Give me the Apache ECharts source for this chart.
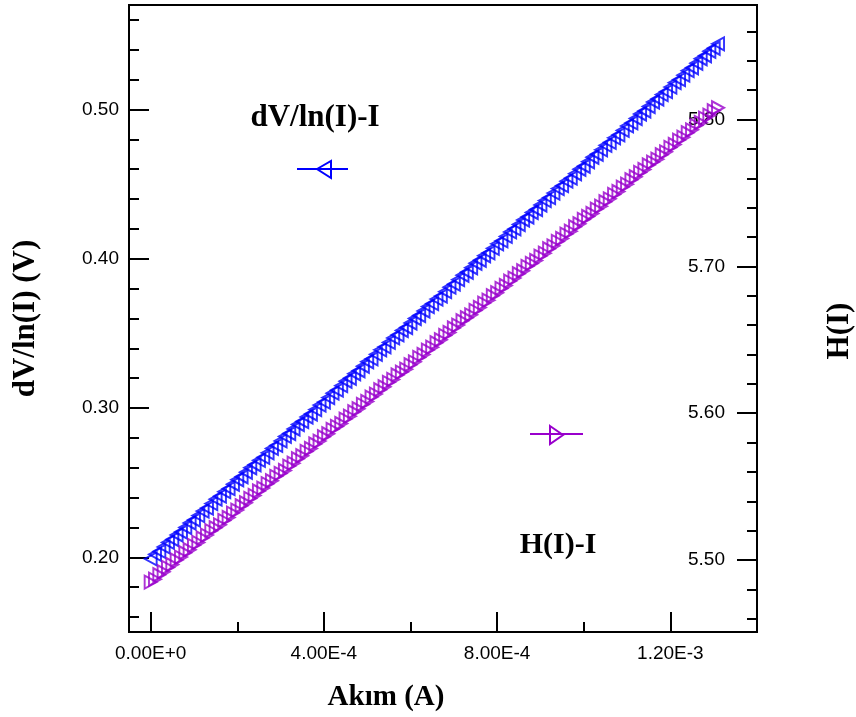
<!DOCTYPE html>
<html>
<head>
<meta charset="utf-8">
<script src="https://cdn.jsdelivr.net/npm/echarts@6/dist/echarts.min.js"></script>
<style>
html,body{margin:0;padding:0;background:#fff;}
#chart{width:856px;height:717px;}
</style>
</head>
<body>
<div id="chart"></div>
<script>
// Current values in microamperes
const currentUA = [0,10,20,30,40,50,60,70,80,90,100,110,120,130,140,150,160,170,180,190,
200,210,220,230,240,250,260,270,280,290,300,310,320,330,340,350,360,370,380,390,
400,410,420,430,440,450,460,470,480,490,500,510,520,530,540,550,560,570,580,590,
600,610,620,630,640,650,660,670,680,690,700,710,720,730,740,750,760,770,780,790,
800,810,820,830,840,850,860,870,880,890,900,910,920,930,940,950,960,970,980,990,
1000,1010,1020,1030,1040,1050,1060,1070,1080,1090,1100,1110,1120,1130,1140,1150,1160,1170,1180,1190,
1200,1210,1220,1230,1240,1250,1260,1270,1280,1290,1300,1310];

// dV/dln(I) (V), left axis
const dVdlnI = [0.199,0.202,0.204,0.207,0.210,0.212,0.215,0.217,0.220,0.223,
0.225,0.228,0.231,0.233,0.236,0.239,0.241,0.244,0.246,0.249,
0.252,0.254,0.257,0.260,0.262,0.265,0.267,0.270,0.273,0.275,
0.278,0.281,0.283,0.286,0.289,0.291,0.294,0.296,0.299,0.302,
0.304,0.307,0.310,0.312,0.315,0.318,0.320,0.323,0.325,0.328,
0.331,0.333,0.336,0.339,0.341,0.344,0.347,0.349,0.352,0.354,
0.357,0.360,0.362,0.365,0.368,0.370,0.373,0.375,0.378,0.381,
0.383,0.386,0.389,0.391,0.394,0.397,0.399,0.402,0.404,0.407,
0.410,0.412,0.415,0.418,0.420,0.423,0.426,0.428,0.431,0.433,
0.436,0.439,0.441,0.444,0.447,0.449,0.452,0.454,0.457,0.460,
0.462,0.465,0.468,0.470,0.473,0.476,0.478,0.481,0.483,0.486,
0.489,0.491,0.494,0.497,0.499,0.502,0.505,0.507,0.510,0.512,
0.515,0.518,0.520,0.523,0.526,0.528,0.531,0.534,0.536,0.539,
0.541,0.544];

// H(I) (V), right axis
const HI = [5.485,5.487,5.490,5.492,5.495,5.497,5.500,5.502,5.505,5.507,
5.510,5.512,5.515,5.517,5.520,5.522,5.524,5.527,5.529,5.532,
5.534,5.537,5.539,5.542,5.544,5.547,5.549,5.552,5.554,5.557,
5.559,5.561,5.564,5.566,5.569,5.571,5.574,5.576,5.579,5.581,
5.584,5.586,5.589,5.591,5.593,5.596,5.598,5.601,5.603,5.606,
5.608,5.611,5.613,5.616,5.618,5.621,5.623,5.626,5.628,5.630,
5.633,5.635,5.638,5.640,5.643,5.645,5.648,5.650,5.653,5.655,
5.658,5.660,5.663,5.665,5.667,5.670,5.672,5.675,5.677,5.680,
5.682,5.685,5.687,5.690,5.692,5.695,5.697,5.700,5.702,5.704,
5.707,5.709,5.712,5.714,5.717,5.719,5.722,5.724,5.727,5.729,
5.732,5.734,5.736,5.739,5.741,5.744,5.746,5.749,5.751,5.754,
5.756,5.759,5.761,5.764,5.766,5.769,5.771,5.773,5.776,5.778,
5.781,5.783,5.786,5.788,5.791,5.793,5.796,5.798,5.801,5.803,
5.806,5.808];

// Tick values and labels
const xTickValues = [0, 0.0004, 0.0008, 0.0012];
const xTickLabels = ['0.00E+0', '4.00E-4', '8.00E-4', '1.20E-3'];
const xMinorTicks = [0.0002, 0.0006, 0.0010];
const leftTickValues = [0.20, 0.30, 0.40, 0.50];
const leftTickLabels = ['0.20', '0.30', '0.40', '0.50'];
const leftMinorTicks = [0.16,0.18,0.22,0.24,0.26,0.28,0.32,0.34,0.36,0.38,0.42,0.44,0.46,0.48,0.52,0.54,0.56];
const rightTickValues = [5.50, 5.60, 5.70, 5.80];
const rightTickLabels = ['5.50', '5.60', '5.70', '5.80'];
const rightMinorTicks = [5.46,5.48,5.52,5.54,5.56,5.58,5.62,5.64,5.66,5.68,5.72,5.74,5.76,5.78,5.82,5.84,5.86];

const seriesNames = ['dV/ln(I)-I', 'H(I)-I'];
const axisTitles = { x: 'Akım (A)', left: 'dV/ln(I) (V)', right: 'H(I)' };

const BLUE = '#0000ff';
const PURPLE = '#9900cc';
const SANS = '"Liberation Sans", Arial, sans-serif';
const SERIF = '"Liberation Serif", "Times New Roman", serif';

function lookup(values, labels) {
  return function (v) {
    for (let i = 0; i < values.length; i++) {
      if (Math.abs(values[i] - v) < 1e-9) return labels[i];
    }
    return '';
  };
}

const blueData = currentUA.map((c, i) => [c * 1e-6, dVdlnI[i]]);
const purpleData = currentUA.map((c, i) => [c * 1e-6, HI[i]]);

const LEFT_TRI = 'path://M0,5L10,0L10,10Z';
const RIGHT_TRI = 'path://M0,0L10,5L0,10Z';

const chart = echarts.init(document.getElementById('chart'), null, { renderer: 'canvas' });

const labelStyle = { color: '#000', fontSize: 19, fontFamily: SANS };
const titleStyle = { color: '#000', fontSize: 31, fontWeight: 'bold', fontFamily: SERIF };

chart.setOption({
  animation: false,
  backgroundColor: '#fff',
  grid: { left: 129, right: 99, top: 5, bottom: 85, containLabel: false, outerBoundsMode: 'none',
          show: true, borderColor: '#000', borderWidth: 2, backgroundColor: 'transparent' },
  xAxis: [
    {
      type: 'value', min: -0.00005, max: 0.0014, position: 'bottom',
      axisLine: { show: true, onZero: false, lineStyle: { color: '#000', width: 2 } },
      axisTick: { show: true, inside: true, length: 20, customValues: xTickValues, lineStyle: { color: '#000', width: 2 } },
      axisLabel: { show: true, customValues: xTickValues, formatter: lookup(xTickValues, xTickLabels), margin: 12, ...labelStyle },
      splitLine: { show: false }
    },
    {
      type: 'value', min: -0.00005, max: 0.0014, position: 'bottom',
      axisLine: { show: false, onZero: false },
      axisTick: { show: true, inside: true, length: 10, customValues: xMinorTicks, lineStyle: { color: '#000', width: 2 } },
      axisLabel: { show: false },
      splitLine: { show: false }
    }
  ],
  yAxis: [
    {
      type: 'value', min: 0.15, max: 0.57, position: 'left',
      axisLine: { show: true, onZero: false, lineStyle: { color: '#000', width: 2 } },
      axisTick: { show: true, inside: true, length: 20, customValues: leftTickValues, lineStyle: { color: '#000', width: 2 } },
      axisLabel: { show: true, customValues: leftTickValues, formatter: lookup(leftTickValues, leftTickLabels), margin: 10, ...labelStyle },
      splitLine: { show: false },
      name: axisTitles.left, nameLocation: 'middle', nameRotate: 90, nameGap: 88, nameMoveOverlap: false,
      nameTextStyle: titleStyle
    },
    {
      type: 'value', min: 0.15, max: 0.57, position: 'left',
      axisLine: { show: false, onZero: false },
      axisTick: { show: true, inside: true, length: 10, customValues: leftMinorTicks, lineStyle: { color: '#000', width: 2 } },
      axisLabel: { show: false },
      splitLine: { show: false }
    },
    {
      type: 'value', min: 5.451, max: 5.878, position: 'right',
      axisLine: { show: true, onZero: false, lineStyle: { color: '#000', width: 2 } },
      axisTick: { show: true, inside: true, length: 20, customValues: rightTickValues, lineStyle: { color: '#000', width: 2 } },
      axisLabel: { show: true, inside: true, customValues: rightTickValues, formatter: lookup(rightTickValues, rightTickLabels), margin: 32, ...labelStyle },
      splitLine: { show: false }
    },
    {
      type: 'value', min: 5.451, max: 5.878, position: 'right',
      axisLine: { show: false, onZero: false },
      axisTick: { show: true, inside: true, length: 10, customValues: rightMinorTicks, lineStyle: { color: '#000', width: 2 } },
      axisLabel: { show: false },
      splitLine: { show: false }
    }
  ],
  series: [
    {
      name: seriesNames[0], type: 'scatter', xAxisIndex: 0, yAxisIndex: 0,
      data: blueData, symbol: LEFT_TRI, symbolSize: [12, 13], symbolKeepAspect: false,
      itemStyle: { color: 'rgba(0,0,0,0)', borderColor: BLUE, borderWidth: 2 },
      emphasis: { disabled: true }, z: 3
    },
    {
      name: seriesNames[1], type: 'scatter', xAxisIndex: 0, yAxisIndex: 2,
      data: purpleData, symbol: RIGHT_TRI, symbolSize: [12, 13], symbolKeepAspect: false,
      itemStyle: { color: 'rgba(0,0,0,0)', borderColor: PURPLE, borderWidth: 2 },
      emphasis: { disabled: true }, z: 3
    }
  ],
  graphic: [
    { type: 'text', x: 315, y: 118, style: { text: seriesNames[0], fill: '#000', font: 'bold 31px ' + SERIF, align: 'center', verticalAlign: 'middle' } },
    { type: 'line', shape: { x1: 297, y1: 169, x2: 348, y2: 169 }, style: { stroke: BLUE, lineWidth: 2 } },
    { type: 'polygon', shape: { points: [[317, 169], [331, 161], [331, 178]] }, style: { stroke: BLUE, fill: 'none', lineWidth: 2 } },
    { type: 'text', x: 558, y: 545, style: { text: seriesNames[1], fill: '#000', font: 'bold 30px ' + SERIF, align: 'center', verticalAlign: 'middle' } },
    { type: 'line', shape: { x1: 530, y1: 434, x2: 583, y2: 434 }, style: { stroke: PURPLE, lineWidth: 2 } },
    { type: 'polygon', shape: { points: [[550, 426], [563, 435], [550, 444]] }, style: { stroke: PURPLE, fill: 'none', lineWidth: 2 } },
    { type: 'text', x: 386, y: 698, style: { text: axisTitles.x, fill: '#000', font: 'bold 29px ' + SERIF, align: 'center', verticalAlign: 'middle' } },
    { type: 'text', x: 840, y: 331, rotation: Math.PI / 2, style: { text: axisTitles.right, fill: '#000', font: 'bold 31px ' + SERIF, align: 'center', verticalAlign: 'middle' } }
  ]
});
</script>
</body>
</html>
